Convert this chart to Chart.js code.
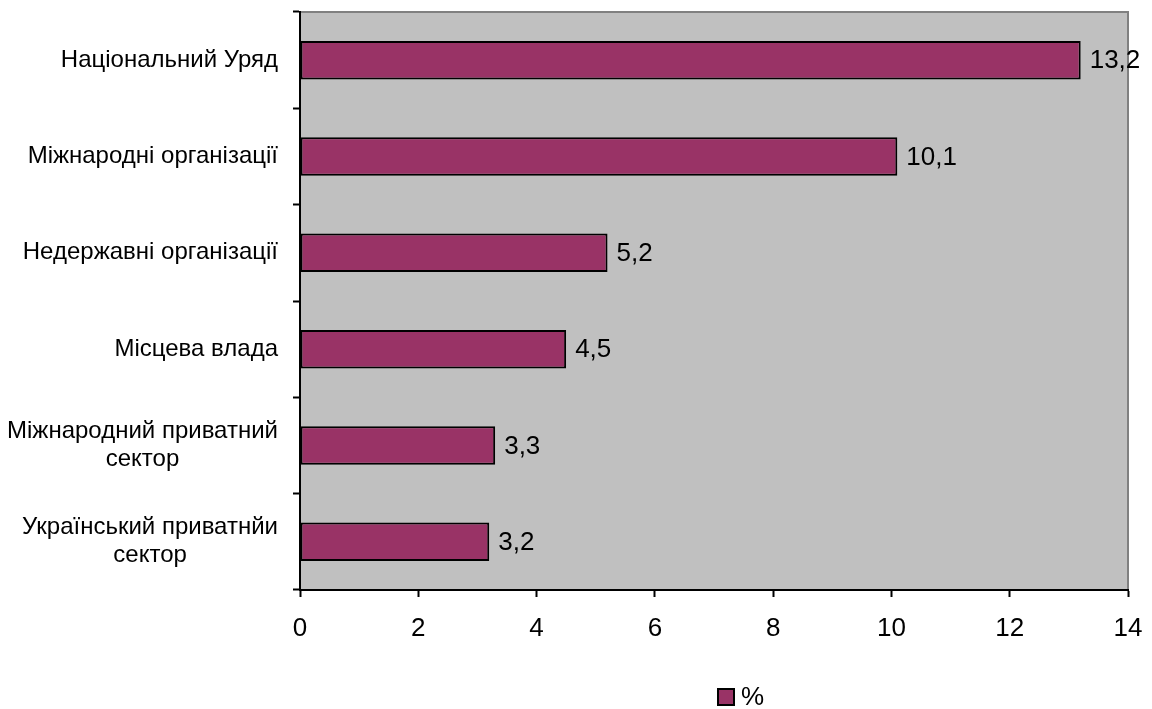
<!DOCTYPE html>
<html>
<head>
<meta charset="utf-8">
<script src="https://cdn.jsdelivr.net/npm/chart.js@4/dist/chart.umd.min.js"></script>
<style>
  html, body { margin: 0; padding: 0; background: #ffffff; }
  #wrap { width: 1152px; height: 709px; }
</style>
</head>
<body>
<div id="wrap"><canvas id="c" width="1152" height="709"></canvas></div>
<script>
// Funding sources, share in percent
const categories = [
  ['Національний Уряд'],
  ['Міжнародні організації'],
  ['Недержавні організації'],
  ['Місцева влада'],
  ['Міжнародний приватний', 'сектор'],
  ['Український приватнйи', 'сектор']
];
const values = [13.2, 10.1, 5.2, 4.5, 3.3, 3.2];
const valueLabels = ['13,2', '10,1', '5,2', '4,5', '3,3', '3,2'];
const seriesName = '%';
const xTicks = [0, 2, 4, 6, 8, 10, 12, 14];

const FONT = '"Liberation Sans", Arial, sans-serif';
const BAR_COLOR = '#993366';

// Grey plot background with the light frame on top and right
const plotBackground = {
  id: 'plotBackground',
  beforeDraw(chart) {
    const { ctx, chartArea: a } = chart;
    ctx.save();
    ctx.fillStyle = '#c0c0c0';
    ctx.fillRect(a.left, a.top, a.right - a.left, a.bottom - a.top);
    ctx.strokeStyle = '#808080';
    ctx.lineWidth = 2;
    ctx.beginPath();
    ctx.moveTo(a.left, a.top);
    ctx.lineTo(a.right, a.top);
    ctx.lineTo(a.right, a.bottom);
    ctx.stroke();
    ctx.restore();
  }
};

// Category names left of the axis; wrapped names are centred line by line
const categoryLabels = {
  id: 'categoryLabels',
  afterDraw(chart) {
    const { ctx } = chart;
    const y = chart.scales.y;
    const right = 278;
    const lineH = 28;
    ctx.save();
    ctx.font = '24px ' + FONT;
    ctx.fillStyle = '#000000';
    ctx.textBaseline = 'middle';
    categories.forEach((lines, i) => {
      const cy = y.getPixelForValue(i);
      const widest = Math.max(...lines.map(l => ctx.measureText(l).width));
      const cx = right - widest / 2;
      ctx.textAlign = 'center';
      lines.forEach((l, k) => {
        const ly = cy + (k - (lines.length - 1) / 2) * lineH;
        ctx.fillText(l, cx, ly);
      });
    });
    ctx.restore();
  }
};

// Value labels to the right of each bar
const valueTags = {
  id: 'valueTags',
  afterDatasetsDraw(chart) {
    const { ctx } = chart;
    const meta = chart.getDatasetMeta(0);
    ctx.save();
    ctx.font = '26px ' + FONT;
    ctx.fillStyle = '#000000';
    ctx.textAlign = 'left';
    ctx.textBaseline = 'middle';
    meta.data.forEach((bar, i) => {
      ctx.fillText(valueLabels[i], bar.x + 9, bar.y + 1);
    });
    ctx.restore();
  }
};

// Legend entry under the chart
const seriesKey = {
  id: 'seriesKey',
  afterDraw(chart) {
    const { ctx } = chart;
    const bx = 718, by = 689, s = 16;
    ctx.save();
    ctx.fillStyle = BAR_COLOR;
    ctx.fillRect(bx, by, s, s);
    ctx.strokeStyle = '#000000';
    ctx.lineWidth = 2;
    ctx.strokeRect(bx, by, s, s);
    ctx.font = '26px ' + FONT;
    ctx.fillStyle = '#000000';
    ctx.textAlign = 'left';
    ctx.textBaseline = 'middle';
    ctx.fillText(seriesName, 741, 698);
    ctx.restore();
  }
};

new Chart(document.getElementById('c'), {
  type: 'bar',
  data: {
    labels: categories.map(l => l.join(' ')),
    datasets: [{
      label: seriesName,
      data: values,
      backgroundColor: BAR_COLOR,
      borderColor: '#000000',
      borderWidth: 2,
      borderSkipped: false,
      barPercentage: 0.4,
      categoryPercentage: 1.0
    }]
  },
  options: {
    indexAxis: 'y',
    responsive: false,
    devicePixelRatio: 1,
    animation: false,
    layout: { padding: { top: 12, right: 24, bottom: 59, left: 0 } },
    plugins: {
      legend: { display: false },
      tooltip: { enabled: false }
    },
    scales: {
      x: {
        min: 0,
        max: 14,
        afterBuildTicks(scale) {
          scale.ticks = xTicks.map(v => ({ value: v }));
        },
        afterFit(scale) {
          scale.height = 60;
          scale.paddingLeft = 0;
          scale.paddingRight = 0;
        },
        grid: {
          drawOnChartArea: false,
          drawTicks: true,
          tickLength: 7,
          tickWidth: 2,
          tickColor: '#000000'
        },
        border: { display: true, color: '#000000', width: 2 },
        ticks: {
          color: '#000000',
          font: { family: FONT, size: 26 },
          padding: 16,
          maxRotation: 0
        }
      },
      y: {
        offset: true,
        afterFit(scale) { scale.width = 300; },
        grid: {
          offset: true,
          drawOnChartArea: false,
          drawTicks: true,
          tickLength: 7,
          tickWidth: 2,
          tickColor: '#000000'
        },
        border: { display: true, color: '#000000', width: 2 },
        ticks: { display: false }
      }
    }
  },
  plugins: [plotBackground, categoryLabels, valueTags, seriesKey]
});
</script>
</body>
</html>
